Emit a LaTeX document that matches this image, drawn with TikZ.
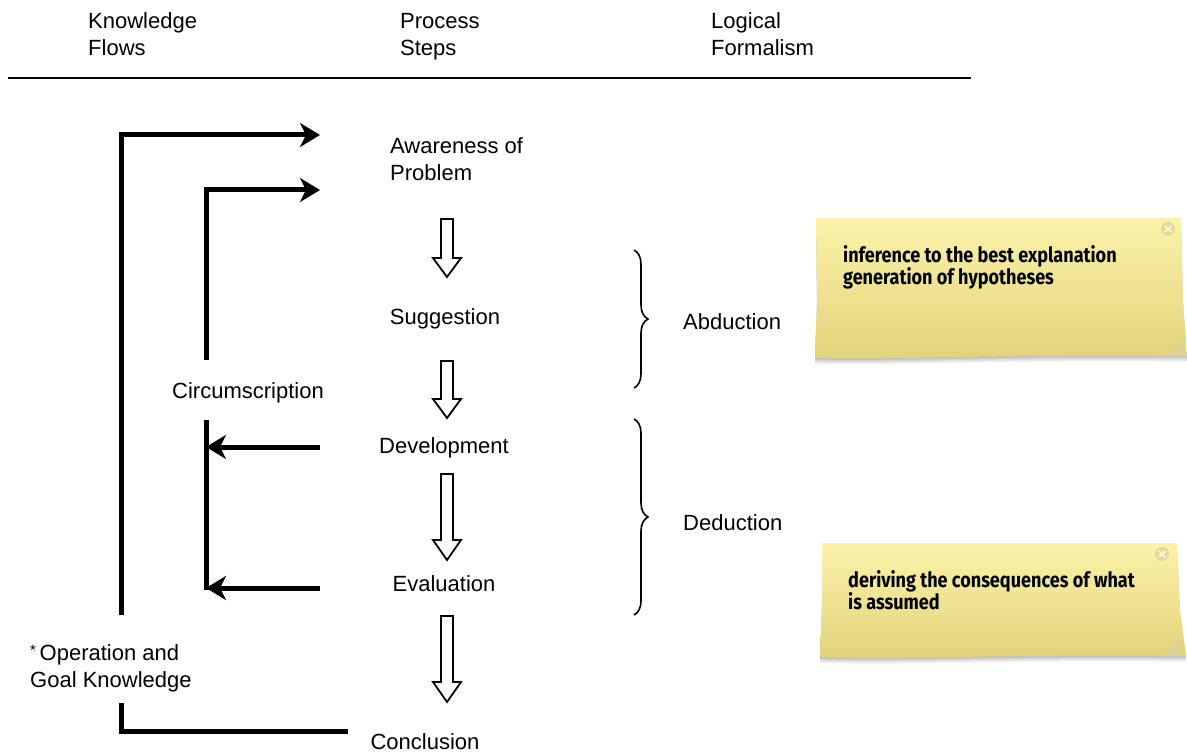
\documentclass[tikz,border=0pt]{standalone}
\usepackage{fontspec}
\setmainfont{Liberation Sans}
\newfontfamily\notefont[FakeStretch=0.86]{Fira Sans Bold}
\usetikzlibrary{arrows.meta,decorations.pathreplacing,shadows,calc}

\definecolor{notetop}{HTML}{FBF3AA}
\definecolor{notebot}{HTML}{E2D27A}
\definecolor{closebtn}{HTML}{E6DA96}

\tikzset{
  lbl/.style={font=\fontsize{22}{27}\selectfont, inner sep=0pt, align=left, anchor=base},
  hdr/.style={lbl, anchor=base west},
  flow/.style={line width=5pt, -{Stealth[length=20pt, width=24pt, inset=6pt]}},
  flowline/.style={line width=5pt},
  hollow/.style={draw=black, line width=1.8pt, fill=white, line join=miter},
  bracestyle/.style={line width=1.6pt, decorate, decoration={brace, amplitude=14pt}},
  sticky/.style={top color=notetop, bottom color=notebot, draw=none},
  notetxt/.style={font=\notefont\fontsize{21}{22}\selectfont, anchor=base west, align=left, inner sep=0pt},
}

% downward hollow arrow: x centre, top, bottom, start of head
\newcommand\hollowdown[4]{%
  \draw[hollow] (#1-6,#2) -- (#1+6,#2) -- (#1+6,#4) -- (#1+14,#4) -- (#1,#3)
    -- (#1-14,#4) -- (#1-6,#4) -- cycle;}

% soft shadow under a note outline (layered translucent copies)
\newcommand\noteshadow[1]{%
  \foreach \s/\o in {6/0.05,4.5/0.06,3/0.07,1.5/0.08}
    \fill[black, opacity=\o, shift={(0,\s)}] #1;}

\begin{document}
\begin{tikzpicture}[x=1pt,y=-1pt]
\useasboundingbox (0,0) rectangle (1187,754);
\fill[white] (0,0) rectangle (1187,754);

% column headings (anchored at the baseline of the last line)
\node[hdr] (hk) at (88,56) {Knowledge\\Flows};
\node[hdr] (hp) at (400,56) {Process\\Steps};
\node[hdr] (hl) at (711,56) {Logical\\Formalism};
\coordinate (rulel) at (8,78);
\coordinate (ruler) at (971,78);
\draw[line width=1.6pt] (rulel) -- (ruler);

% process steps
\node[hdr] (aware) at (390,181) {Awareness of\\Problem};
\node[lbl] (sugg) at (445,325) {Suggestion};
\node[lbl] (dev) at (444,453) {Development};
\node[lbl] (eval) at (444,591) {Evaluation};
\node[lbl] (concl) at (425,749) {Conclusion};
\node[lbl] (circ) at (248,398) {Circumscription};
\node[hdr] (opgoal) at (30,687) {{\fontsize{15}{15}\selectfont\raisebox{5pt}{*}}\,Operation and\\Goal Knowledge};

% hollow step arrows
\hollowdown{447}{219}{277}{258}
\hollowdown{447}{361}{418}{399}
\hollowdown{447}{474}{560}{540}
\hollowdown{447}{616}{702}{682}

% knowledge flows
\coordinate (o1) at (121,615);
\coordinate (o2) at (121,135);
\coordinate (o3) at (320,135);
\draw[flow] (o1) -- (o2) -- (o3);
\coordinate (i1) at (206,360);
\coordinate (i2) at (206,190);
\coordinate (i3) at (320,190);
\draw[flow] (i1) -- (i2) -- (i3);
\coordinate (d1) at (320,447);
\coordinate (d2) at (206,447);
\draw[flow] (d1) -- (d2);
\coordinate (e1) at (320,588);
\coordinate (e2) at (206,588);
\draw[flow] (e1) -- (e2);
\coordinate (v1) at (206,420);
\coordinate (v2) at (206,590);
\draw[flowline] (v1) -- (v2);
\coordinate (c1) at (121,703);
\coordinate (c2) at (121,731);
\coordinate (c3) at (348,731);
\draw[flowline, line join=miter] (c1) -- (c2) -- (c3);

% logical formalism braces
\coordinate (b1t) at (634,250);
\coordinate (b1b) at (634,388);
\draw[bracestyle] (b1t) -- (b1b);
\coordinate (b2t) at (634,419);
\coordinate (b2b) at (634,615);
\draw[bracestyle] (b2t) -- (b2b);
\node[hdr] (abd) at (683,330) {Abduction};
\node[hdr] (ded) at (683,530) {Deduction};

% sticky notes
\def\noteA{(816,218) -- (1181,218) -- (1183,300) -- (1187,356)
  .. controls (1000,354) and (900,360) .. (815,358) -- (817,300) -- cycle}
\noteshadow{\noteA}
\path[sticky] \noteA;
\node[notetxt] (n1) at (843,285) {inference to the best explanation\\generation of hypotheses};
\fill[closebtn] (1168,229) circle (7pt);
\draw[white, line width=1.4pt] (1165,226) -- (1171,232) (1171,226) -- (1165,232);
\foreach \d in {0,5,10}
  \draw[white!60!gray, line width=0.8pt] (1170+\d,354) -- (1184,340+\d);

\def\noteB{(822,543) -- (1177,543) -- (1180,610) -- (1186,656)
  .. controls (1000,654) and (900,660) .. (820,657) -- (822,600) -- cycle}
\noteshadow{\noteB}
\path[sticky] \noteB;
\node[notetxt] (n2) at (848,609) {deriving the consequences of what\\is assumed};
\fill[closebtn] (1162,554) circle (7pt);
\draw[white, line width=1.4pt] (1159,551) -- (1165,557) (1165,551) -- (1159,557);
\foreach \d in {0,5,10}
  \draw[white!60!gray, line width=0.8pt] (1165+\d,655) -- (1180,640+\d);
\end{tikzpicture}
\end{document}
